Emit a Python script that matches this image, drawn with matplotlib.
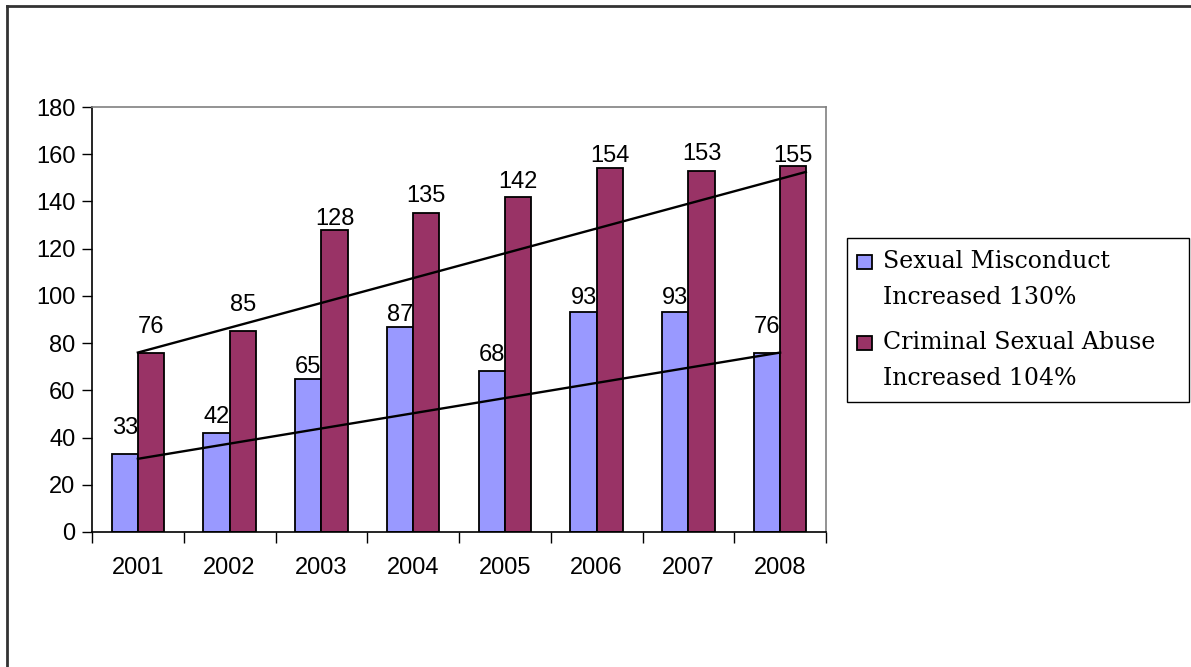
import matplotlib
matplotlib.use("Agg")
import matplotlib.pyplot as plt
from matplotlib.patches import Rectangle
from matplotlib.lines import Line2D
import numpy as np

years = ["2001", "2002", "2003", "2004", "2005", "2006", "2007", "2008"]
misconduct = [33, 42, 65, 87, 68, 93, 93, 76]
abuse = [76, 85, 128, 135, 142, 154, 153, 155]
misconduct_label = "Sexual Misconduct\nIncreased 130%"
abuse_label = "Criminal Sexual Abuse\nIncreased 104%"
# hand-drawn trend line end points (category index, value)
misconduct_trend_x = [0, 7]
misconduct_trend_y = [31, 76]
abuse_trend_x = [0, 7.28]
abuse_trend_y = [76, 152.5]
yticks = list(range(0, 181, 20))

# styling: gap (px) between each data label and its bar top, as in the reference
misconduct_gap_px = [20, 10, 6, 6, 10, 8, 8, 20]
abuse_gap_px = [20, 20, 5, 11, 9, 6, 11, 4]

blue = "#9999FF"
maroon = "#993366"
W, H = 1191, 667

plt.rcParams["font.family"] = ["Liberation Sans", "DejaVu Sans"]

fig = plt.figure(figsize=(W / 100, H / 100), dpi=100)
ax = fig.add_axes([92 / W, 135 / H, (826 - 92) / W, (532 - 107) / H])

x = np.arange(len(years))
w = 0.285
ax.bar(x - w / 2, misconduct, width=w, color=blue, edgecolor="black", linewidth=1.3, zorder=2)
ax.bar(x + w / 2, abuse, width=w, color=maroon, edgecolor="black", linewidth=1.3, zorder=2)

px2pt = 0.72
for xi, v, g in zip(x, misconduct, misconduct_gap_px):
    ax.annotate(str(v), (xi - w / 2, v), xytext=(0, g * px2pt), textcoords="offset points",
                ha="center", va="baseline", fontsize=17, zorder=4)
for xi, v, g in zip(x, abuse, abuse_gap_px):
    ax.annotate(str(v), (xi + w / 2, v), xytext=(0, g * px2pt), textcoords="offset points",
                ha="center", va="baseline", fontsize=17, zorder=4)

ax.plot(misconduct_trend_x, misconduct_trend_y, color="black", linewidth=1.7, zorder=3)
ax.plot(abuse_trend_x, abuse_trend_y, color="black", linewidth=1.7, zorder=3)

ax.set_xlim(-0.5, len(years) - 0.5)
ax.set_ylim(0, 180)
ax.set_yticks(yticks)
ax.set_yticklabels([str(t) for t in yticks], fontsize=17)
ax.tick_params(axis="y", direction="out", length=7, width=1, pad=5)

ax.set_xticks(x)
ax.set_xticklabels(years, fontsize=17)
ax.tick_params(axis="x", which="major", length=0, pad=18)
ax.set_xticks(np.arange(-0.5, len(years), 1.0), minor=True)
ax.tick_params(axis="x", which="minor", direction="out", length=8, width=1)

for s in ["left", "bottom"]:
    ax.spines[s].set_color("black")
    ax.spines[s].set_linewidth(1.2)
for s in ["top", "right"]:
    ax.spines[s].set_color("#808080")
    ax.spines[s].set_linewidth(1.2)

# legend drawn by hand (box at the right of the plot)
def fx(px):
    return px / W

def fy(py):
    return 1 - py / H

fig.add_artist(Rectangle((fx(847), fy(402)), fx(1189) - fx(847), fy(238) - fy(402),
                         transform=fig.transFigure, facecolor="white", edgecolor="black",
                         linewidth=1.0))
entries = [(misconduct_label, blue, 268), (abuse_label, maroon, 349)]
for label, color, base in entries:
    fig.add_artist(Rectangle((fx(857), fy(base + 1)), fx(872) - fx(857), fy(base - 13) - fy(base + 1),
                             transform=fig.transFigure, facecolor=color, edgecolor="black",
                             linewidth=1.3))
    for i, line in enumerate(label.split("\n")):
        fig.text(fx(883), fy(base + i * 36), line, ha="left", va="baseline",
                 fontsize=17, family="DejaVu Serif")

# outer chart border (partly cropped)
fig.add_artist(Line2D([fx(7), fx(7)], [0, fy(6)], transform=fig.transFigure,
                      color="#333333", linewidth=2))
fig.add_artist(Line2D([fx(7), 1], [fy(6), fy(6)], transform=fig.transFigure,
                      color="#333333", linewidth=2))

fig.savefig("out.png", dpi=100, facecolor="white")
